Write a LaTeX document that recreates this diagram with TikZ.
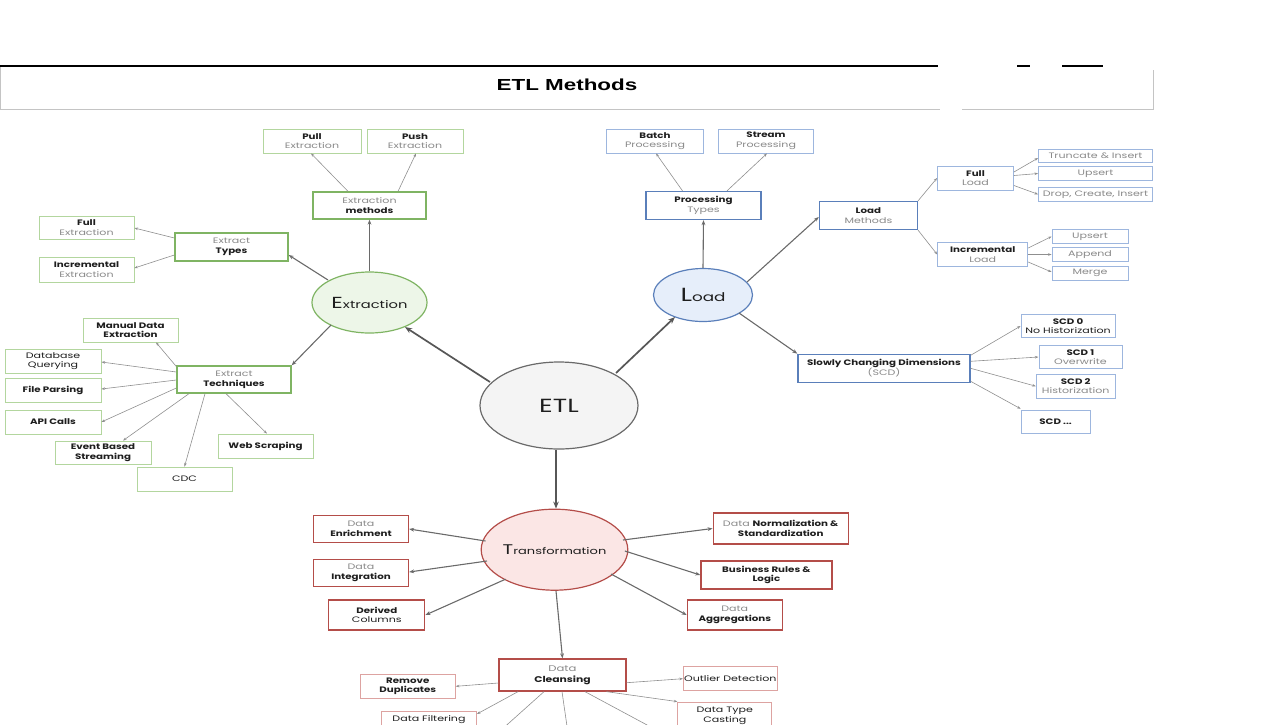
\documentclass[tikz,border=0pt]{standalone}
\usepackage{fontspec}
\usetikzlibrary{arrows.meta,calc,shapes.geometric}
\newfontfamily\sk[FakeStretch=1.4]{Poppins}
\newfontfamily\skb[FakeStretch=1.3]{Poppins}
\newfontfamily\ttlfont[FakeStretch=1.4]{Liberation Sans}
\definecolor{greenD}{HTML}{7FB463}
\definecolor{greenL}{HTML}{B3D69E}
\definecolor{blueD}{HTML}{5A7FBA}
\definecolor{blueL}{HTML}{9DB6DE}
\definecolor{redD}{HTML}{B44D49}
\definecolor{redL}{HTML}{DDA3A1}
\definecolor{extrFill}{HTML}{EDF6E8}
\definecolor{loadFill}{HTML}{E6EEFA}
\definecolor{transFill}{HTML}{FBE6E5}
\definecolor{etlFill}{HTML}{F4F4F4}
\definecolor{etlLine}{HTML}{6A6A6A}
\definecolor{txtG}{HTML}{8A8A8A}
\definecolor{txtD}{HTML}{1E1E1E}
\definecolor{boxGrey}{HTML}{C4C4C4}
\definecolor{arrMain}{HTML}{575757}
\definecolor{arrMid}{HTML}{6A6A6A}
\definecolor{arrThin}{HTML}{8F8F8F}
\newcommand\mygrey[1]{{\sk\color{txtG}#1}}
\newcommand\mybold[1]{{\skb\bfseries\color{txtD}#1}}
\newcommand\mydark[1]{{\sk\color{txtD}#1}}
\begin{document}
\begin{tikzpicture}[x=1pt,y=-1pt,
  box/.style={rectangle, inner sep=0pt, align=center, fill=white,
    font=\sk\fontsize{7.9}{9.6}\selectfont, text=txtD},
  sz/.style 2 args={minimum width=#1, minimum height=#2},
  gmid/.style={box, draw=greenD, line width=1.3},
  gleaf/.style={box, draw=greenL, line width=0.8},
  bmid/.style={box, draw=blueD, line width=1.3},
  bsub/.style={box, draw=blueL, line width=0.9},
  bleaf/.style={box, draw=blueL, line width=0.8},
  rmid/.style={box, draw=redD, line width=1.3},
  rleaf/.style={box, draw=redL, line width=0.8},
  bigell/.style={ellipse, inner sep=0pt, line width=1.2, text=txtD},
  mainA/.style={draw=arrMain, line width=1.7, -{Stealth[length=7pt,width=5.5pt]}},
  midA/.style={draw=arrMid, line width=1.1, -{Stealth[length=5pt,width=3.8pt]}},
  thinA/.style={draw=arrThin, line width=0.6, -{Stealth[length=3.6pt,width=2.6pt]}}
]
\path[use as bounding box] (0,0) rectangle (1283,724);
\clip (0,0) rectangle (1283,724);

% ---------- title bar ----------
\draw[boxGrey, line width=0.9] (0,66) -- (0,109) -- (940,109);
\draw[boxGrey, line width=0.9] (962,109) -- (1153,109) -- (1153,70);
\draw[black, line width=1.1] (0,66) -- (938,66);
\draw[black, line width=1.1] (1017,66) -- (1030,66);
\draw[black, line width=1.1] (1062,66) -- (1103,66);
\node[font=\ttlfont\bfseries\fontsize{16}{16}\selectfont, text=black] (title) at (567,85) {ETL Methods};

% ---------- central ----------
\node[bigell, draw=etlLine, fill=etlFill, minimum width=158, minimum height=87,
  font=\sk\fontsize{19}{19}\selectfont] (etl) at (559,405.5) {ETL};

% ---------- Extraction ----------
\node[bigell, draw=greenD, fill=extrFill, minimum width=115, minimum height=61] (extr) at (369.5,302.5)
  {\sk{\fontsize{16}{16}\selectfont E}{\fontsize{10.5}{12}\selectfont xtraction}};
\node[gmid, sz={113}{27}] (emeth) at (369.5,205.5) {\mygrey{Extraction}\\\mybold{methods}};
\node[gleaf, sz={98}{24}] (pull) at (312,141) {\mybold{Pull}\\\mygrey{Extraction}};
\node[gleaf, sz={96}{24}] (push) at (415,141) {\mybold{Push}\\\mygrey{Extraction}};
\node[gmid, sz={113}{28}] (etypes) at (231.5,247) {\mygrey{Extract}\\\mybold{Types}};
\node[gleaf, sz={95}{23}] (fullex) at (86.5,227.5) {\mybold{Full}\\\mygrey{Extraction}};
\node[gleaf, sz={95}{25}] (incex) at (86.5,269.5) {\mybold{Incremental}\\\mygrey{Extraction}};
\node[gmid, sz={114}{27}] (etech) at (234,379.5) {\mygrey{Extract}\\\mybold{Techniques}};
\node[gleaf, sz={95}{24}] (manual) at (130.5,330) {\mybold{Manual Data}\\\mybold{Extraction}};
\node[gleaf, sz={96}{24}] (dbq) at (53,361) {\mydark{Database}\\\mydark{Querying}};
\node[gleaf, sz={96}{24}] (filep) at (53,390) {\mybold{File Parsing}};
\node[gleaf, sz={96}{24}] (api) at (53,422) {\mybold{API Calls}};
\node[gleaf, sz={96}{23}] (event) at (103,452.5) {\mybold{Event Based}\\\mybold{Streaming}};
\node[gleaf, sz={95}{24}] (cdc) at (184.5,479) {\mydark{CDC}};
\node[gleaf, sz={95}{24}] (web) at (265.5,446) {\mybold{Web Scraping}};

% ---------- Load ----------
\node[bigell, draw=blueD, fill=loadFill, minimum width=99, minimum height=53] (load) at (703,295)
  {\sk{\fontsize{19}{19}\selectfont L}{\fontsize{12}{12}\selectfont oad}};
\node[bmid, sz={115}{28}] (ptypes) at (703.5,205.5) {\mybold{Processing}\\\mygrey{Types}};
\node[bleaf, sz={97}{24}] (batch) at (655,141) {\mybold{Batch}\\\mygrey{Processing}};
\node[bleaf, sz={95}{24}] (stream) at (766,141) {\mybold{Stream}\\\mygrey{Processing}};
\node[bmid, sz={98}{28}] (lmeth) at (868.4,215.5) {\mybold{Load}\\\mygrey{Methods}};
\node[bsub, sz={76}{24}] (fullload) at (975.5,178) {\mybold{Full}\\\mygrey{Load}};
\node[bsub, sz={90}{24}] (incload) at (982.7,254.5) {\mybold{Incremental}\\\mygrey{Load}};
\node[bleaf, sz={114}{13.5}] (trunc) at (1095.5,156) {\mygrey{Truncate \& Insert}};
\node[bleaf, sz={114}{13.5}] (upsertA) at (1095.5,173.5) {\mygrey{Upsert}};
\node[bleaf, sz={114}{14}] (drop) at (1095.5,194.3) {\mygrey{Drop, Create, Insert}};
\node[bleaf, sz={76}{14}] (upsertB) at (1090,236.5) {\mygrey{Upsert}};
\node[bleaf, sz={76}{14}] (append) at (1090,254.5) {\mygrey{Append}};
\node[bleaf, sz={76}{14}] (merge) at (1090,273) {\mygrey{Merge}};
\node[bmid, sz={172}{28}] (scd) at (884,368.3) {\mybold{Slowly Changing Dimensions}\\\mygrey{(SCD)}};
\node[bleaf, sz={94}{23}] (scdA) at (1068,326) {\mybold{SCD 0}\\\mydark{No Historization}};
\node[bleaf, sz={83}{23}] (scdB) at (1080.4,357) {\mybold{SCD 1}\\\mygrey{Overwrite}};
\node[bleaf, sz={79}{24}] (scdC) at (1075.7,386.2) {\mybold{SCD 2}\\\mygrey{Historization}};
\node[bleaf, sz={69}{23}] (scdD) at (1055.6,421.7) {\mybold{SCD ...}};

% ---------- Transformation ----------
\node[bigell, draw=redD, fill=transFill, minimum width=141, minimum height=81] (trans) at (554.5,549.7)
  {\sk{\fontsize{14}{14}\selectfont T}{\fontsize{9.3}{11}\selectfont ransformation}};
\node[rmid, sz={95}{27}] (enrich) at (361,529) {\mygrey{Data}\\\mybold{Enrichment}};
\node[rmid, sz={95}{27}] (integ) at (361,573) {\mygrey{Data}\\\mybold{Integration}};
\node[rmid, sz={96}{30}] (derived) at (376.8,615) {\mybold{Derived}\\\mydark{Columns}};
\node[rmid, sz={135}{31}] (norm) at (780.7,528.5) {\mygrey{Data} \mybold{Normalization \&}\\\mybold{Standardization}};
\node[rmid, sz={131}{28}] (busi) at (766.4,575) {\mybold{Business Rules \&}\\\mybold{Logic}};
\node[rmid, sz={95}{30}] (aggr) at (734.8,615) {\mygrey{Data}\\\mybold{Aggregations}};
\node[rmid, sz={127}{32}, font=\sk\fontsize{8.3}{11}\selectfont] (clean) at (562.5,675) {\mygrey{Data}\\\mybold{Cleansing}};
\node[rleaf, sz={95}{24}] (remdup) at (407.8,686.3) {\mybold{Remove}\\\mybold{Duplicates}};
\node[rleaf, sz={94}{24}] (outl) at (730.3,678.7) {\mydark{Outlier Detection}};
\node[rleaf, sz={94}{28}] (dtype) at (724.8,716) {\mydark{Data Type}\\\mydark{Casting}};
\node[rleaf, sz={95}{28}, text depth=13pt] (dfilt) at (429,725) {\mydark{Data Filtering}};
\coordinate (offA) at (490,740);
\coordinate (offB) at (569,740);
\coordinate (offC) at (675,740);

% ---------- main connectors ----------
\draw[mainA] ([shift={(-69,-23.5)}]etl.center) -- ([shift={(35.5,24.5)}]extr.center);
\draw[mainA] ([shift={(57,-32.5)}]etl.center) -- ([shift={(-28,22)}]load.center);
\draw[mainA] ([shift={(-3,0)}]etl.south) -- ([shift={(1.5,0)}]trans.north);

% ---------- extraction connectors ----------
\draw[midA] (extr.north) -- (emeth.south);
\draw[midA] ([shift={(-41.5,-22.5)}]extr.center) -- ([shift={(0,8)}]etypes.east);
\draw[midA] ([shift={(-38.5,22.5)}]extr.center) -- (etech.north east);
\draw[thinA] ([shift={(-21.5,0)}]emeth.north) -- ([shift={(-1,0)}]pull.south);
\draw[thinA] ([shift={(28.5,0)}]emeth.north) -- ([shift={(1,0)}]push.south);
\draw[thinA] ([shift={(0,-9)}]etypes.west) -- ([shift={(0,0.5)}]fullex.east);
\draw[thinA] ([shift={(0,8)}]etypes.west) -- ([shift={(0,-1.5)}]incex.east);
\draw[thinA] ([shift={(0,-13)}]etech.west) -- ([shift={(25.5,0)}]manual.south);
\draw[thinA] ([shift={(0,-7.5)}]etech.west) -- ([shift={(0,1)}]dbq.east);
\draw[thinA] ([shift={(0,0.5)}]etech.west) -- ([shift={(0,-1)}]filep.east);
\draw[thinA] ([shift={(0,8.5)}]etech.west) -- (api.east);
\draw[thinA] ([shift={(-45,0)}]etech.south) -- ([shift={(20,0)}]event.north);
\draw[thinA] ([shift={(-29,0)}]etech.south) -- (cdc.north);
\draw[thinA] ([shift={(-8,0)}]etech.south) -- ([shift={(1.5,0)}]web.north);

% ---------- load connectors ----------
\draw[midA] (load.north) -- (ptypes.south);
\draw[midA] ([shift={(44,-13)}]load.center) -- ([shift={(0,1.5)}]lmeth.west);
\draw[midA] ([shift={(36,18)}]load.center) -- (scd.north west);
\draw[thinA] ([shift={(-21,0)}]ptypes.north) -- ([shift={(1,0)}]batch.south);
\draw[thinA] ([shift={(23.5,0)}]ptypes.north) -- ([shift={(1,0)}]stream.south);
\draw[thinA] (lmeth.north east) -- (fullload.west);
\draw[thinA] (lmeth.south east) -- (incload.west);
\draw[thinA] ([shift={(0,-6)}]fullload.east) -- ([shift={(0,2)}]trunc.west);
\draw[thinA] ([shift={(0,-2.5)}]fullload.east) -- (upsertA.west);
\draw[thinA] ([shift={(0,7.5)}]fullload.east) -- (drop.west);
\draw[thinA] ([shift={(0,-6.5)}]incload.east) -- (upsertB.west);
\draw[thinA] (incload.east) -- (append.west);
\draw[thinA] ([shift={(0,7.5)}]incload.east) -- ([shift={(0,-1)}]merge.west);
\draw[thinA] ([shift={(0,-13)}]scd.east) -- (scdA.west);
\draw[thinA] ([shift={(0,-7)}]scd.east) -- (scdB.west);
\draw[thinA] (scd.east) -- (scdC.west);
\draw[thinA] ([shift={(0,13)}]scd.east) -- ([shift={(0,-1)}]scdD.north west);

% ---------- transformation connectors ----------
\draw[midA] ([shift={(-69,-8.7)}]trans.center) -- (enrich.east);
\draw[midA] ([shift={(-67.5,11.3)}]trans.center) -- ([shift={(0,-1)}]integ.east);
\draw[midA] ([shift={(-49,29.5)}]trans.center) -- (derived.east);
\draw[midA] ([shift={(68.5,-9.7)}]trans.center) -- (norm.west);
\draw[midA] ([shift={(70.4,1.3)}]trans.center) -- (busi.west);
\draw[midA] ([shift={(56.5,24.3)}]trans.center) -- (aggr.west);
\draw[midA] ([shift={(1.5,0)}]trans.south) -- (clean.north);
\draw[thinA] ([shift={(0,8)}]clean.west) -- (remdup.east);
\draw[thinA] ([shift={(0,7.7)}]clean.east) -- (outl.west);
\draw[thinA] ([shift={(44,0)}]clean.south) -- (dtype.north west);
\draw[thinA] ([shift={(-44.5,0)}]clean.south) -- ([shift={(0,-11)}]dfilt.east);
\draw[thinA] ([shift={(-18.5,0)}]clean.south) -- (offA);
\draw[thinA] ([shift={(-0.5,0)}]clean.south) -- (offB);
\draw[thinA] ([shift={(22.5,0)}]clean.south) -- (offC);
\end{tikzpicture}
\end{document}
